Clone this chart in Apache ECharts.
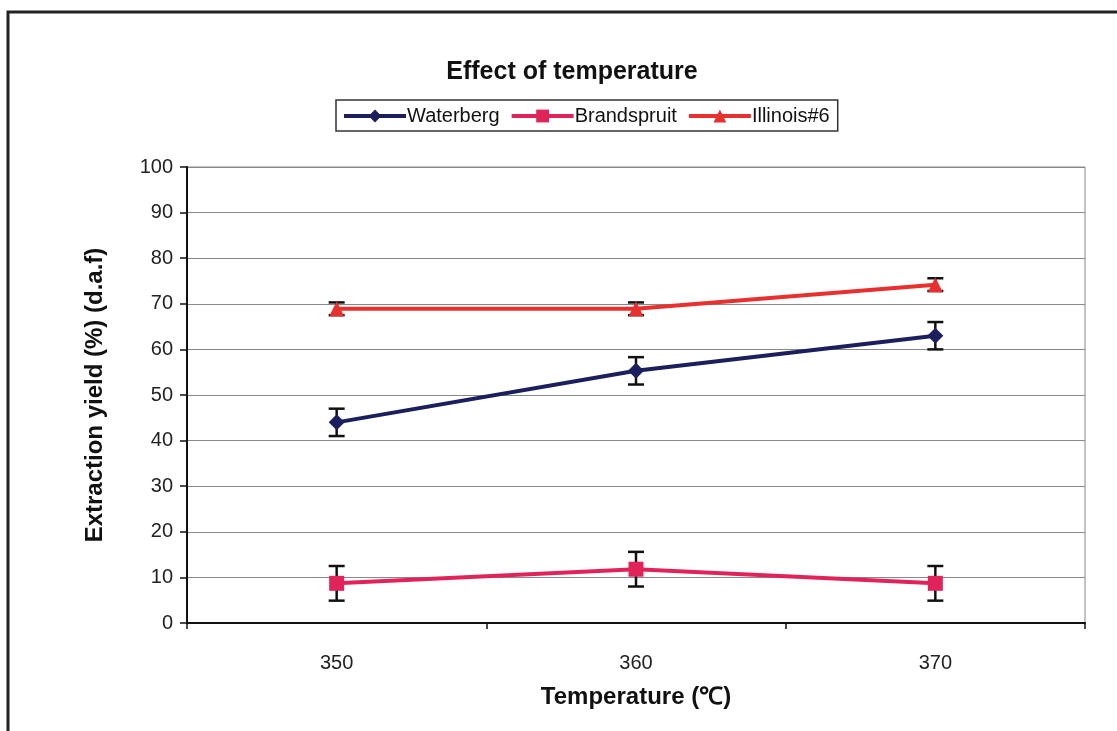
<!DOCTYPE html>
<html>
<head>
<meta charset="utf-8">
<script src="https://cdn.jsdelivr.net/npm/echarts@6/dist/echarts.min.js"></script>
<style>
  html, body { margin: 0; padding: 0; background: #fff; }
  #main { width: 1117px; height: 731px; }
</style>
</head>
<body>
<div id="main"></div>
<script>
const temps = ['350', '360', '370'];
const waterberg = [44, 55.3, 63];
const waterbergErr = [3, 3, 3];
const brandspruit = [8.7, 11.8, 8.7];
const brandspruitErr = [3.8, 3.8, 3.8];
const illinois = [68.9, 68.9, 74.2];
const illinoisErr = [1.4, 1.4, 1.4];

const chart = echarts.init(document.getElementById('main'));

// error bars drawn as custom series
function errorSeries(values, errs) {
  return {
    type: 'custom',
    z: 1,
    silent: true,
    data: values.map((v, i) => [i, v - errs[i], v + errs[i]]),
    renderItem: function (params, api) {
      const lo = api.coord([api.value(0), api.value(1)]);
      const hi = api.coord([api.value(0), api.value(2)]);
      const w = 8;
      const style = { stroke: '#111', lineWidth: 2.5 };
      return {
        type: 'group',
        children: [
          { type: 'line', shape: { x1: lo[0], y1: lo[1], x2: hi[0], y2: hi[1] }, style: style },
          { type: 'line', shape: { x1: lo[0] - w, y1: lo[1], x2: lo[0] + w, y2: lo[1] }, style: style },
          { type: 'line', shape: { x1: hi[0] - w, y1: hi[1], x2: hi[0] + w, y2: hi[1] }, style: style }
        ]
      };
    }
  };
}

const option = {
  backgroundColor: '#ffffff',
  textStyle: { fontFamily: 'Liberation Sans, Arial, sans-serif' },
  graphic: [
    { type: 'rect', shape: { x: 8, y: 12, width: 1130, height: 740 }, style: { fill: 'none', stroke: '#222', lineWidth: 3 } },
    { type: 'rect', shape: { x: 187, y: 167, width: 898, height: 456 }, style: { fill: 'none', stroke: '#888', lineWidth: 1 }, z: 0 }
  ],
  title: {
    text: 'Effect of temperature',
    left: 567,
    top: 55,
    textAlign: 'center',
    textStyle: { fontSize: 25, fontWeight: 'bold', color: '#111' }
  },
  legend: {
    left: 336,
    top: 100,
    itemWidth: 62,
    itemHeight: 16,
    itemGap: 10,
    padding: [6, 8, 5, 6],
    borderColor: '#333',
    borderWidth: 1.5,
    borderRadius: 0,
    lineStyle: { width: 4 },
    textStyle: { fontSize: 20, color: '#111', padding: [0, 0, 0, -4] }
  },
  grid: { left: 187, right: 32, top: 167, bottom: 108 },
  xAxis: {
    type: 'category',
    data: temps,
    boundaryGap: true,
    name: 'Temperature (℃)',
    nameLocation: 'middle',
    nameGap: 62,
    nameTextStyle: { fontSize: 24, fontWeight: 'bold', color: '#111' },
    axisLine: { lineStyle: { color: '#111', width: 2 } },
    axisTick: { show: true, length: 6, lineStyle: { color: '#111', width: 1.5 } },
    axisLabel: { fontSize: 20, color: '#222', margin: 30 },
    splitLine: { show: false }
  },
  yAxis: {
    type: 'value',
    min: 0,
    max: 100,
    interval: 10,
    name: 'Extraction yield (%) (d.a.f)',
    nameLocation: 'middle',
    nameGap: 80,
    nameTextStyle: { fontSize: 24, fontWeight: 'bold', color: '#111' },
    axisLine: { show: true, lineStyle: { color: '#111', width: 2 } },
    axisTick: { show: true, inside: false, length: 7, lineStyle: { color: '#111', width: 1.5 } },
    axisLabel: { fontSize: 20, color: '#222', margin: 14 },
    splitLine: { show: true, lineStyle: { color: '#888', width: 1 } }
  },
  series: [
    {
      name: 'Waterberg',
      type: 'line',
      data: waterberg,
      symbol: 'diamond',
      symbolSize: 16,
      color: '#1c1f5e',
      lineStyle: { width: 4, color: '#1c1f5e' },
      itemStyle: { color: '#1c1f5e' },
      z: 3
    },
    {
      name: 'Brandspruit',
      type: 'line',
      data: brandspruit,
      symbol: 'rect',
      symbolSize: 15,
      color: '#e0245a',
      lineStyle: { width: 4, color: '#e0245a' },
      itemStyle: { color: '#e0245a' },
      z: 3
    },
    {
      name: 'Illinois#6',
      type: 'line',
      data: illinois,
      symbol: 'triangle',
      symbolSize: 15,
      color: '#e8302e',
      lineStyle: { width: 4, color: '#e8302e' },
      itemStyle: { color: '#e8302e' },
      z: 3
    },
    errorSeries(waterberg, waterbergErr),
    errorSeries(brandspruit, brandspruitErr),
    errorSeries(illinois, illinoisErr)
  ]
};

chart.setOption(option);
</script>
</body>
</html>
